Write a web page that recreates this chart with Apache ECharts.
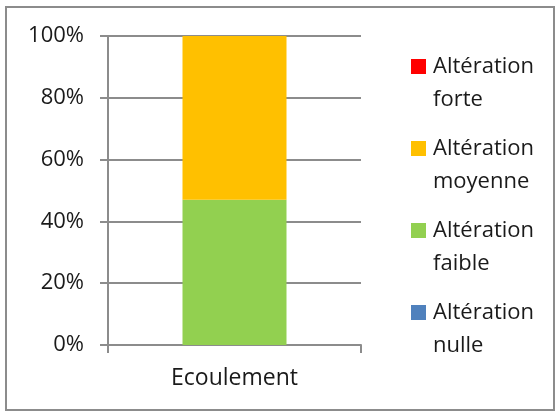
<!DOCTYPE html>
<html>
<head>
<meta charset="utf-8">
<script src="https://cdn.jsdelivr.net/npm/echarts@6/dist/echarts.min.js"></script>
<style>
  html, body { margin: 0; padding: 0; background: #fff; }
  #chart { width: 557px; height: 412px; }
</style>
</head>
<body>
<div id="chart"></div>
<script>
// Share of each alteration class for the "Ecoulement" sample (percent)
const categories = ['Ecoulement'];
const alterationNulle = [0];
const alterationFaible = [47];
const alterationMoyenne = [53];
const alterationForte = [0];
const yTicks = [0, 20, 40, 60, 80, 100];

const FONT = '"Open Sans", "Noto Sans", sans-serif';

// Legend swatch: a 15px square beside the first text line,
// inside a taller invisible box the height of both lines.
const swatch = 'path://M0,9H15V24H0Z M0,0 M0,66';

const chart = echarts.init(document.getElementById('chart'), null, { renderer: 'canvas' });

chart.setOption({
  animation: false,
  backgroundColor: '#fff',
  grid: { left: 108, right: 196, top: 36, bottom: 67, containLabel: false },
  xAxis: {
    type: 'category',
    data: categories,
    axisLine: { show: true, lineStyle: { color: '#8c8c8c', width: 2 } },
    axisTick: { show: true, length: 8, lineStyle: { color: '#8c8c8c', width: 2 } },
    axisLabel: { color: '#1a1a1a', fontFamily: FONT, fontSize: 23, margin: 22 }
  },
  yAxis: {
    type: 'value',
    min: yTicks[0],
    max: yTicks[yTicks.length - 1],
    interval: yTicks[1] - yTicks[0],
    axisLine: { show: true, lineStyle: { color: '#8c8c8c', width: 2 } },
    axisTick: { show: true, length: 8, lineStyle: { color: '#8c8c8c', width: 2 } },
    splitLine: { show: true, lineStyle: { color: '#8c8c8c', width: 2 } },
    axisLabel: { color: '#1a1a1a', fontFamily: FONT, fontSize: 22, margin: 24, formatter: '{value}%' }
  },
  legend: {
    orient: 'vertical',
    left: 411,
    top: 50,
    padding: 0,
    itemWidth: 15,
    itemHeight: 66,
    itemGap: 16,
    icon: swatch,
    data: ['Altération forte', 'Altération moyenne', 'Altération faible', 'Altération nulle'],
    formatter: name => name.replace(' ', '\n'),
    textStyle: { color: '#1a1a1a', fontFamily: FONT, fontSize: 22, lineHeight: 33, padding: [0, 0, 0, 2] }
  },
  graphic: [{
    type: 'rect',
    shape: { x: 6, y: 7, width: 548, height: 403 },
    style: { fill: 'none', stroke: '#8c8c8c', lineWidth: 2 },
    silent: true
  }],
  series: [
    { name: 'Altération nulle', type: 'bar', stack: 'total', barWidth: 104, data: alterationNulle, itemStyle: { color: '#4F81BD' } },
    { name: 'Altération faible', type: 'bar', stack: 'total', barWidth: 104, data: alterationFaible, itemStyle: { color: '#92D050' } },
    { name: 'Altération moyenne', type: 'bar', stack: 'total', barWidth: 104, data: alterationMoyenne, itemStyle: { color: '#FFC000' } },
    { name: 'Altération forte', type: 'bar', stack: 'total', barWidth: 104, data: alterationForte, itemStyle: { color: '#FF0000' } }
  ]
});
</script>
</body>
</html>
